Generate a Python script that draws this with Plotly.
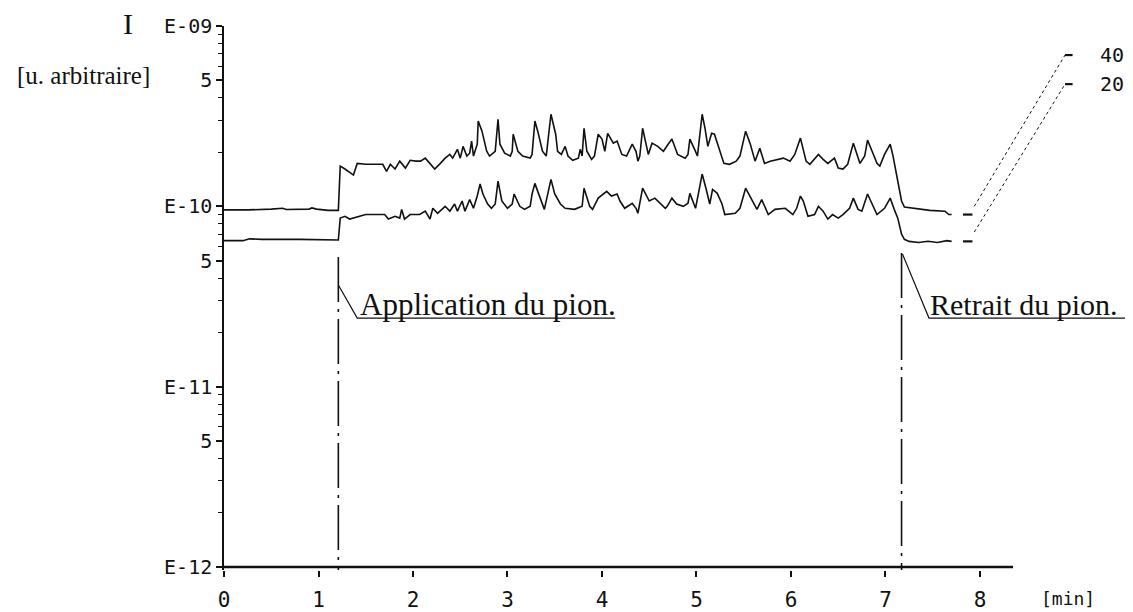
import numpy as np
import plotly.graph_objects as go

# ---------------- data (current in units of 1e-10, time in min) ----------------
SCALE = 1e-10

t40 = [0.0, 0.25, 0.5, 0.62, 0.66, 0.9, 0.93, 0.98, 1.1, 1.21,
       1.23, 1.28, 1.37, 1.41, 1.5, 1.6, 1.68, 1.72, 1.76, 1.81, 1.86, 1.92, 1.97, 2.03, 2.08,
       2.13, 2.16, 2.2, 2.23, 2.29, 2.34, 2.39, 2.42, 2.47, 2.5, 2.53, 2.57, 2.6, 2.62, 2.64,
       2.68, 2.69, 2.73, 2.78, 2.81, 2.87, 2.9, 2.92, 2.97, 3.03, 3.05, 3.06, 3.11, 3.16, 3.24,
       3.26, 3.29, 3.32, 3.37, 3.41, 3.46, 3.51, 3.53, 3.57, 3.61, 3.64, 3.69, 3.75, 3.77, 3.79,
       3.81, 3.84, 3.89, 3.92, 3.96, 4.0, 4.03, 4.06, 4.12, 4.16, 4.21, 4.26, 4.32, 4.36, 4.38,
       4.4, 4.43, 4.49, 4.53, 4.59, 4.65, 4.7, 4.74, 4.8, 4.88, 4.91, 4.93, 4.98, 5.01, 5.06,
       5.09, 5.12, 5.16, 5.19, 5.25, 5.29, 5.35, 5.42, 5.46, 5.52, 5.57, 5.62, 5.67, 5.72, 5.78,
       5.85, 5.92, 5.99, 6.04, 6.1, 6.16, 6.2, 6.29, 6.34, 6.39, 6.46, 6.5, 6.55, 6.6, 6.66,
       6.73, 6.78, 6.81, 6.91, 6.94, 6.99, 7.05, 7.08, 7.13, 7.17, 7.2, 7.31, 7.47, 7.63, 7.67, 7.7]
i40 = [0.955, 0.955, 0.965, 0.975, 0.96, 0.965, 0.98, 0.965, 0.95, 0.95,
       1.67, 1.61, 1.49, 1.73, 1.71, 1.71, 1.71, 1.56, 1.71, 1.61, 1.78, 1.63, 1.80, 1.78, 1.78,
       1.85, 1.78, 1.67, 1.61, 1.73, 1.85, 1.94, 1.85, 2.07, 1.85, 2.15, 1.90, 1.97, 2.30, 1.90,
       2.21, 2.97, 2.61, 2.02, 1.90, 2.02, 3.04, 2.21, 1.97, 1.90, 2.02, 2.51, 2.02, 1.90, 1.85,
       1.94, 2.97, 2.61, 2.02, 1.90, 3.24, 2.51, 2.02, 1.94, 2.15, 1.90, 1.80, 1.85, 2.07, 1.90,
       2.71, 2.02, 1.82, 1.90, 2.51, 2.36, 2.02, 2.54, 2.24, 2.30, 1.94, 1.90, 2.21, 2.02, 1.78,
       1.90, 2.71, 1.94, 2.24, 2.15, 2.02, 2.21, 2.36, 1.94, 1.85, 1.94, 2.36, 2.07, 1.90, 3.24,
       2.71, 2.15, 2.54, 2.51, 2.02, 1.73, 1.71, 1.78, 1.90, 2.61, 2.21, 1.78, 2.10, 1.73, 1.78,
       1.82, 1.85, 1.78, 1.94, 2.39, 1.78, 1.71, 1.94, 1.82, 1.73, 1.85, 1.63, 1.61, 1.71, 2.24,
       1.73, 1.90, 2.33, 1.73, 1.67, 1.94, 2.21, 1.90, 1.38, 1.07, 0.99, 0.975, 0.95, 0.94, 0.90, 0.90]

t20 = [0.0, 0.2, 0.27, 0.4, 0.8, 1.21,
       1.23, 1.28, 1.33, 1.44, 1.5, 1.7, 1.74, 1.81, 1.86, 1.88, 1.91, 1.97, 2.07, 2.13, 2.18,
       2.21, 2.26, 2.34, 2.39, 2.44, 2.47, 2.52, 2.55, 2.6, 2.64, 2.68, 2.71, 2.74, 2.79, 2.83,
       2.87, 2.9, 2.94, 3.0, 3.05, 3.07, 3.13, 3.18, 3.24, 3.26, 3.29, 3.32, 3.39, 3.46, 3.5,
       3.56, 3.61, 3.71, 3.79, 3.81, 3.87, 3.9, 3.96, 4.05, 4.1, 4.16, 4.19, 4.24, 4.32, 4.36,
       4.38, 4.43, 4.5, 4.56, 4.61, 4.67, 4.69, 4.74, 4.79, 4.86, 4.91, 4.93, 4.99, 5.06, 5.1,
       5.14, 5.17, 5.22, 5.27, 5.3, 5.41, 5.46, 5.52, 5.59, 5.64, 5.69, 5.76, 5.83, 5.94, 6.02,
       6.06, 6.1, 6.13, 6.18, 6.25, 6.29, 6.34, 6.39, 6.44, 6.5, 6.53, 6.55, 6.62, 6.66, 6.71,
       6.75, 6.81, 6.91, 6.99, 7.05, 7.1, 7.13, 7.17, 7.2, 7.25, 7.35, 7.45, 7.55, 7.65, 7.7]
i20 = [0.645, 0.645, 0.66, 0.656, 0.656, 0.65,
       0.86, 0.88, 0.85, 0.88, 0.90, 0.90, 0.85, 0.88, 0.86, 0.962, 0.85, 0.90, 0.90, 0.94, 0.85,
       0.975, 0.915, 1.0, 0.94, 1.03, 0.94, 1.07, 0.94, 1.09, 0.975, 1.14, 1.33, 1.17, 1.03, 0.975,
       1.03, 1.38, 1.07, 0.975, 1.03, 1.17, 1.0, 0.962, 1.0, 1.17, 1.34, 1.21, 0.962, 1.41, 1.17,
       1.03, 0.975, 0.962, 1.0, 1.26, 1.0, 0.962, 1.11, 1.21, 1.14, 1.17, 1.07, 0.975, 1.04, 0.975,
       0.915, 1.26, 1.07, 1.11, 1.04, 0.975, 1.0, 1.11, 1.03, 1.0, 1.04, 1.18, 0.975, 1.51, 1.26,
       1.03, 1.24, 1.18, 1.03, 0.90, 0.915, 0.975, 1.26, 1.07, 0.962, 1.09, 0.90, 0.962, 0.975, 0.90,
       0.975, 1.14, 1.07, 0.88, 0.90, 1.0, 0.94, 0.85, 0.90, 0.86, 0.88, 0.90, 0.975, 1.11, 0.962,
       0.94, 1.17, 0.90, 0.975, 1.11, 0.94, 0.86, 0.70, 0.656, 0.639, 0.63, 0.64, 0.63, 0.645, 0.639]

# short plotted dashes after the recording, dotted rise to the end marks
t_tail = [7.82, 7.92]
i40_tail = [0.90, 0.90]
i20_tail = [0.639, 0.639]
t_rise = [7.94, 8.90]
i40_rise = [1.0, 6.90]
i20_rise = [0.72, 4.76]
t_end = [8.90, 8.98]
i40_end = [6.90, 6.90]
i20_end = [4.76, 4.76]
curve_labels = ["40", "20"]

# events (min)
t_application = 1.21
t_retrait = 7.17
event_labels = ["Application du pion.", "Retrait du pion."]

# axis ticks
x_ticks = [0, 1, 2, 3, 4, 5, 6, 7, 8]
y_ticks = [1e-12, 5e-12, 1e-11, 5e-11, 1e-10, 5e-10, 1e-9]
y_ticktext = ["E-12", "5", "E-11", "5", "E-10", "5", "E-09"]
y_minor = [m * 10.0 ** e for e in (-12, -11, -10) for m in (2, 3, 4, 6, 7, 8, 9)]

# ---------------- figure ----------------
def sc(v):
    return [x * SCALE for x in v]

BLACK = "#111111"
fig = go.Figure()

for t, v in [(t40, i40), (t20, i20)]:
    fig.add_trace(go.Scatter(x=t, y=sc(v), mode="lines",
                             line=dict(color=BLACK, width=1.6), hoverinfo="skip"))
for tt, v in [(t_tail, i40_tail), (t_tail, i20_tail), (t_end, i40_end), (t_end, i20_end)]:
    fig.add_trace(go.Scatter(x=tt, y=sc(v), mode="lines",
                             line=dict(color=BLACK, width=2.2), hoverinfo="skip"))
for v in (i40_rise, i20_rise):
    fig.add_trace(go.Scatter(x=t_rise, y=sc(v), mode="lines",
                             line=dict(color=BLACK, width=1, dash="dot"), hoverinfo="skip"))

# x axis line (stops at ~8.35 min)
fig.add_trace(go.Scatter(x=[0, 8.35], y=[1e-12, 1e-12], mode="lines",
                         line=dict(color=BLACK, width=2.5), hoverinfo="skip"))

# event vertical dash-dot lines
Y_BOTTOM = 10 ** -12.017
for te, ytop in [(t_application, 10 ** -10.281), (t_retrait, 10 ** -10.259)]:
    fig.add_trace(go.Scatter(x=[te, te], y=[ytop, Y_BOTTOM], mode="lines",
                             line=dict(color=BLACK, width=1.6, dash="45px,7px,3px,7px"),
                             hoverinfo="skip"))

# leader lines with underline
y_under = 10 ** -10.620
leaders = [
    ([t_application, 1.41, 4.14], [10 ** -10.436, y_under, y_under]),
    ([t_retrait + 0.01, 7.46, 9.59], [10 ** -10.265, y_under, y_under]),
]
for lx, ly in leaders:
    fig.add_trace(go.Scatter(x=lx, y=ly, mode="lines",
                             line=dict(color=BLACK, width=1.2), hoverinfo="skip"))

serif = "Liberation Serif"
mono = "DejaVu Sans Mono"
ann = [
    dict(x=1.42, y=-10.547, text=event_labels[0], xanchor="left", yanchor="middle",
         xref="x", yref="y", font=dict(family=serif, size=31, color=BLACK)),
    dict(x=7.45, y=-10.547, text=event_labels[1], xanchor="left", yanchor="middle",
         xref="x", yref="y", font=dict(family=serif, size=30, color=BLACK)),
    dict(x=9.25, y=-9.161, text=curve_labels[0], xanchor="left", yanchor="middle",
         xref="x", yref="y", font=dict(family=mono, size=20, color=BLACK)),
    dict(x=9.25, y=-9.322, text=curve_labels[1], xanchor="left", yanchor="middle",
         xref="x", yref="y", font=dict(family=mono, size=20, color=BLACK)),
    dict(x=0.9326, y=-0.0515, text="[min]", xanchor="center", yanchor="middle",
         xref="paper", yref="paper", font=dict(family=mono, size=18, color=BLACK)),
    dict(x=-0.106, y=1.0055, text="I", xanchor="center", yanchor="middle",
         xref="paper", yref="paper", font=dict(family=serif, size=30, color=BLACK)),
    dict(x=-0.1547, y=0.9081, text="[u. arbitraire]", xanchor="center", yanchor="middle",
         xref="paper", yref="paper", font=dict(family=serif, size=25, color=BLACK)),
]
for a in ann:
    a["showarrow"] = False

# page has an 8 px body margin: figure sized/positioned to compensate
fig.update_layout(
    width=1125, height=604,
    margin=dict(l=216, r=4, t=18, b=42, autoexpand=False),
    paper_bgcolor="white", plot_bgcolor="white",
    showlegend=False,
    annotations=ann,
    xaxis=dict(range=[0, 9.577], showgrid=False, zeroline=False, showline=False,
               automargin=False,
               tickvals=x_ticks, ticktext=[str(v) for v in x_ticks],
               ticks="outside", ticklen=6, tickwidth=1.5, tickcolor=BLACK,
               ticklabelstandoff=5,
               tickfont=dict(family=mono, size=21, color=BLACK)),
    yaxis=dict(type="log", range=[-12.017, -9], showgrid=False, zeroline=False,
               automargin=False,
               showline=True, linecolor=BLACK, linewidth=1.5,
               tickvals=y_ticks, ticktext=y_ticktext,
               ticks="outside", ticklen=6, tickwidth=1.5, tickcolor=BLACK,
               tickfont=dict(family=mono, size=20, color=BLACK),
               minor=dict(tickvals=y_minor, ticks="outside", ticklen=4, tickwidth=1.2,
                          tickcolor=BLACK, showgrid=False)),
)

fig.write_html("out.html")
